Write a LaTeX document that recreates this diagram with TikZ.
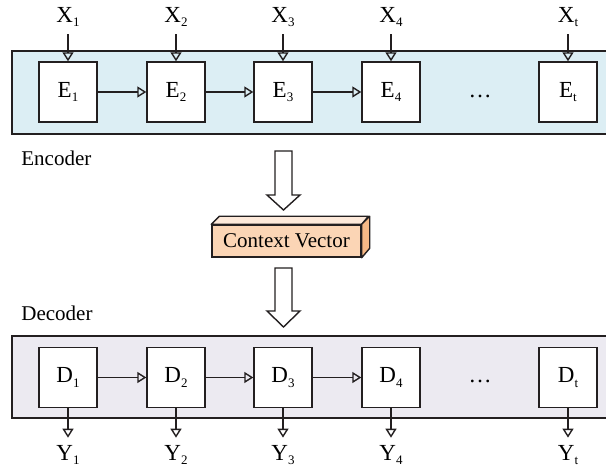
\documentclass[tikz,border=0pt]{standalone}
\usepackage{fontspec}
\setmainfont{Liberation Serif}
\usetikzlibrary{arrows.meta}
\definecolor{linec}{HTML}{231F20}
\definecolor{encfill}{HTML}{DCEEF4}
\definecolor{decfill}{HTML}{ECEAF1}
\definecolor{ctxfront}{HTML}{FBD5B5}
\definecolor{ctxtop}{HTML}{FDE9DA}
\definecolor{ctxside}{HTML}{F6B987}
\newcommand{\lsub}[2]{#1\raisebox{-0.45ex}{\fontsize{6.5}{7}\selectfont #2}}
\tikzset{
  cell/.style={draw=linec, fill=white, line width=0.7pt, minimum width=29pt,
    minimum height=30pt, inner sep=0pt, font=\fontsize{11.5}{13}\selectfont},
  lbl/.style={inner sep=0pt, font=\fontsize{11.5}{13}\selectfont},
  flow/.style={draw=linec, line width=0.7pt, -{Triangle[open,length=4.5pt,width=5.5pt]}},
  band/.style={draw=linec, line width=0.7pt},
  blockarrow/.style={draw=linec, line width=0.7pt, fill=white, line join=miter},
}
\begin{document}
\begin{tikzpicture}[x=0.5pt,y=-0.5pt]
                \useasboundingbox (0,0) rectangle (606,470);
                % encoder band
                \draw [band, fill=encfill] (12,51) rectangle (614,134);
                \node [lbl, anchor=west, font=\fontsize{10.5}{12}\selectfont] (enc) at (21,158) {Encoder};
                \node [cell] (e1) at (68,92) {\lsub{E}{1}};
                \node [cell] (e2) at (176,92) {\lsub{E}{2}};
                \node [cell] (e3) at (283,92) {\lsub{E}{3}};
                \node [cell] (e4) at (391,92) {\lsub{E}{4}};
                \node [cell] (et) at (568,92) {\lsub{E}{t}};
                \node [lbl] (edots) at (480,96) {\dots};
                \node [lbl] (x1) at (68,17) {\lsub{X}{1}};
                \node [lbl] (x2) at (176,17) {\lsub{X}{2}};
                \node [lbl] (x3) at (283,17) {\lsub{X}{3}};
                \node [lbl] (x4) at (391,17) {\lsub{X}{4}};
                \node [lbl] (xt) at (568,17) {\lsub{X}{t}};
                \foreach \i in {1,2,3,4,t}
                    \draw [flow] ([yshift=-3.5pt]x\i.south) -- (x\i.south |- e\i.north);
                \draw [flow] (e1) -- (e2);
                \draw [flow] (e2) -- (e3);
                \draw [flow] (e3) -- (e4);
                % context vector
                \draw [blockarrow] (275,151) -- (292,151) -- (292,195) -- (300,195) -- (283.5,210)
                    -- (267,195) -- (275,195) -- cycle;
                \node [draw=linec, fill=ctxfront, line width=0.7pt, minimum width=74.5pt,
                    minimum height=16pt, inner sep=0pt, font=\fontsize{10.5}{12}\selectfont]
                    (ctx) at (286.5,241) {Context Vector};
                \draw [draw=linec, fill=ctxtop, line width=0.7pt, line join=round]
                    (ctx.north west) -- ++(8,-8) -- ++(149,0) -- (ctx.north east) -- cycle;
                \draw [draw=linec, fill=ctxside, line width=0.7pt, line join=round]
                    (ctx.north east) -- ++(8,-8) -- ++(0,32) -- (ctx.south east) -- cycle;
                \draw [blockarrow] (275,268) -- (292,268) -- (292,311) -- (300,311) -- (283.5,327)
                    -- (267,311) -- (275,311) -- cycle;
                % decoder band
                \node [lbl, anchor=west, font=\fontsize{10.5}{12}\selectfont] (dec) at (21,313) {Decoder};
                \draw [band, fill=decfill] (12,336) rectangle (614,418);
                \node [cell] (d1) at (68,377.5) {\lsub{D}{1}};
                \node [cell] (d2) at (176,377.5) {\lsub{D}{2}};
                \node [cell] (d3) at (283,377.5) {\lsub{D}{3}};
                \node [cell] (d4) at (391,377.5) {\lsub{D}{4}};
                \node [cell] (dt) at (568,377.5) {\lsub{D}{t}};
                \node [lbl] (ddots) at (480,381) {\dots};
                \node [lbl] (y1) at (68,455) {\lsub{Y}{1}};
                \node [lbl] (y2) at (176,455) {\lsub{Y}{2}};
                \node [lbl] (y3) at (283,455) {\lsub{Y}{3}};
                \node [lbl] (y4) at (391,455) {\lsub{Y}{4}};
                \node [lbl] (yt) at (568,455) {\lsub{Y}{t}};
                \foreach \i in {1,2,3,4,t}
                    \draw [flow] (d\i.south) -- ([yshift=3.5pt]d\i.south |- y\i.north);
                \draw [flow] (d1) -- (d2);
                \draw [flow] (d2) -- (d3);
                \draw [flow] (d3) -- (d4);
            \end{tikzpicture}
\end{document}
